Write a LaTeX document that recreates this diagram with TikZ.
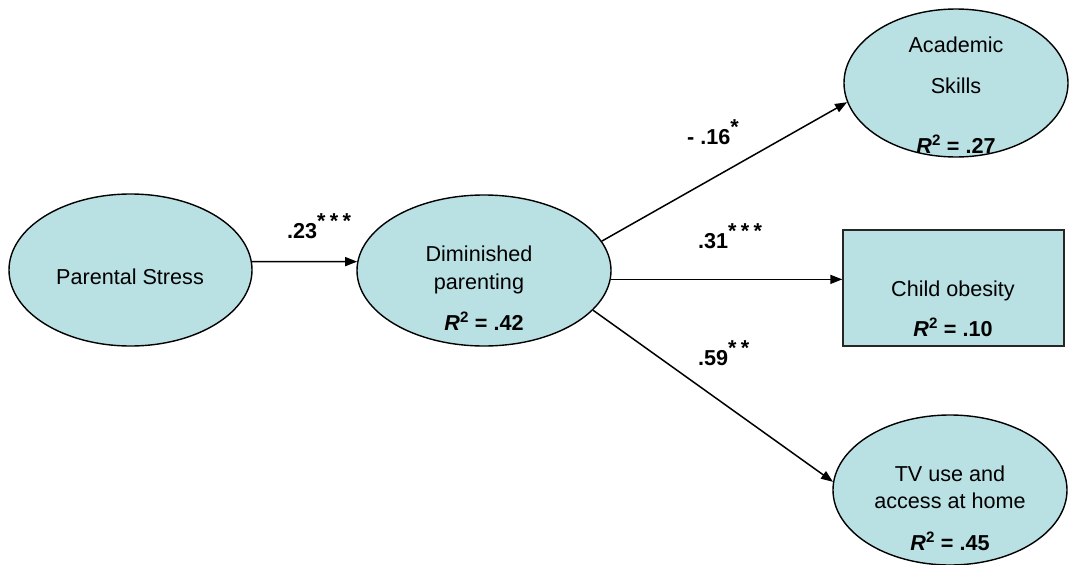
\documentclass[tikz,border=0pt]{standalone}
\usepackage{fontspec}
\setmainfont{Liberation Sans}
\usetikzlibrary{arrows.meta,shapes.geometric}
\definecolor{varfill}{RGB}{185,224,227}
\newcommand{\sigstars}[1]{\raisebox{10pt}{\bfseries\addfontfeature{LetterSpace=20}#1}}
\newcommand{\rsq}[1]{\textbf{\textit{R}\textsuperscript{2} = #1}}
\begin{document}
\begin{tikzpicture}[x=1pt,y=-1pt,
  every node/.style={font=\fontsize{21.6}{29}\selectfont},
  latent/.style={ellipse,draw=black,line width=1.4pt,fill=varfill,inner sep=0pt},
  observed/.style={rectangle,draw=black!85,line width=1.4pt,fill=varfill,inner sep=0pt},
  txt/.style={anchor=base,inner sep=0pt},
  coef/.style={anchor=base west,inner sep=0pt,font=\fontsize{21.6}{29}\selectfont\bfseries},
  path/.style={line width=1.5pt,-{Triangle[length=12pt,width=9pt]}}]
\useasboundingbox (0,0) rectangle (1069,565);

% variables
\node[latent,minimum width=243pt,minimum height=152pt] (ps) at (130.5,270) {};
\node[latent,minimum width=254pt,minimum height=151pt] (dp) at (484,270.5) {};
\node[latent,minimum width=224pt,minimum height=148pt] (as) at (956,83) {};
\node[observed,minimum width=221pt,minimum height=116pt] (co) at (953.5,288) {};
\node[latent,minimum width=234pt,minimum height=150pt] (tv) at (950,490) {};

% variable labels
\node[txt] (psl) at (130,284) {Parental Stress};
\node[txt] (dpl1) at (479,261) {Diminished};
\node[txt] (dpl2) at (479,289) {parenting};
\node[txt] (dpr) at (484,330) {\rsq{.42}};
\node[txt] (asl1) at (956,52) {Academic};
\node[txt] (asl2) at (956,93) {Skills};
\node[txt] (asr) at (956,153) {\rsq{.27}};
\node[txt] (col) at (953,296) {Child obesity};
\node[txt] (cor) at (953,336) {\rsq{.10}};
\node[txt] (tvl1) at (950,481) {TV use and};
\node[txt] (tvl2) at (950,508) {access at home};
\node[txt] (tvr) at (950,550) {\rsq{.45}};

% paths
\draw[path] (ps.4) -- (dp.176);
\draw[path] (dp.14) -- (as.190);
\draw[path] (dp.-4) -- (co.west |- dp.-4);
\draw[path] (dp.-20) -- (tv.176);

% path coefficients
\node[coef] (c1) at (287,238) {.23\sigstars{***}};
\node[coef] (c2) at (687,144) {- .16\sigstars{*}};
\node[coef] (c3) at (698,248) {.31\sigstars{***}};
\node[coef] (c4) at (698,365) {.59\sigstars{**}};
\end{tikzpicture}
\end{document}
